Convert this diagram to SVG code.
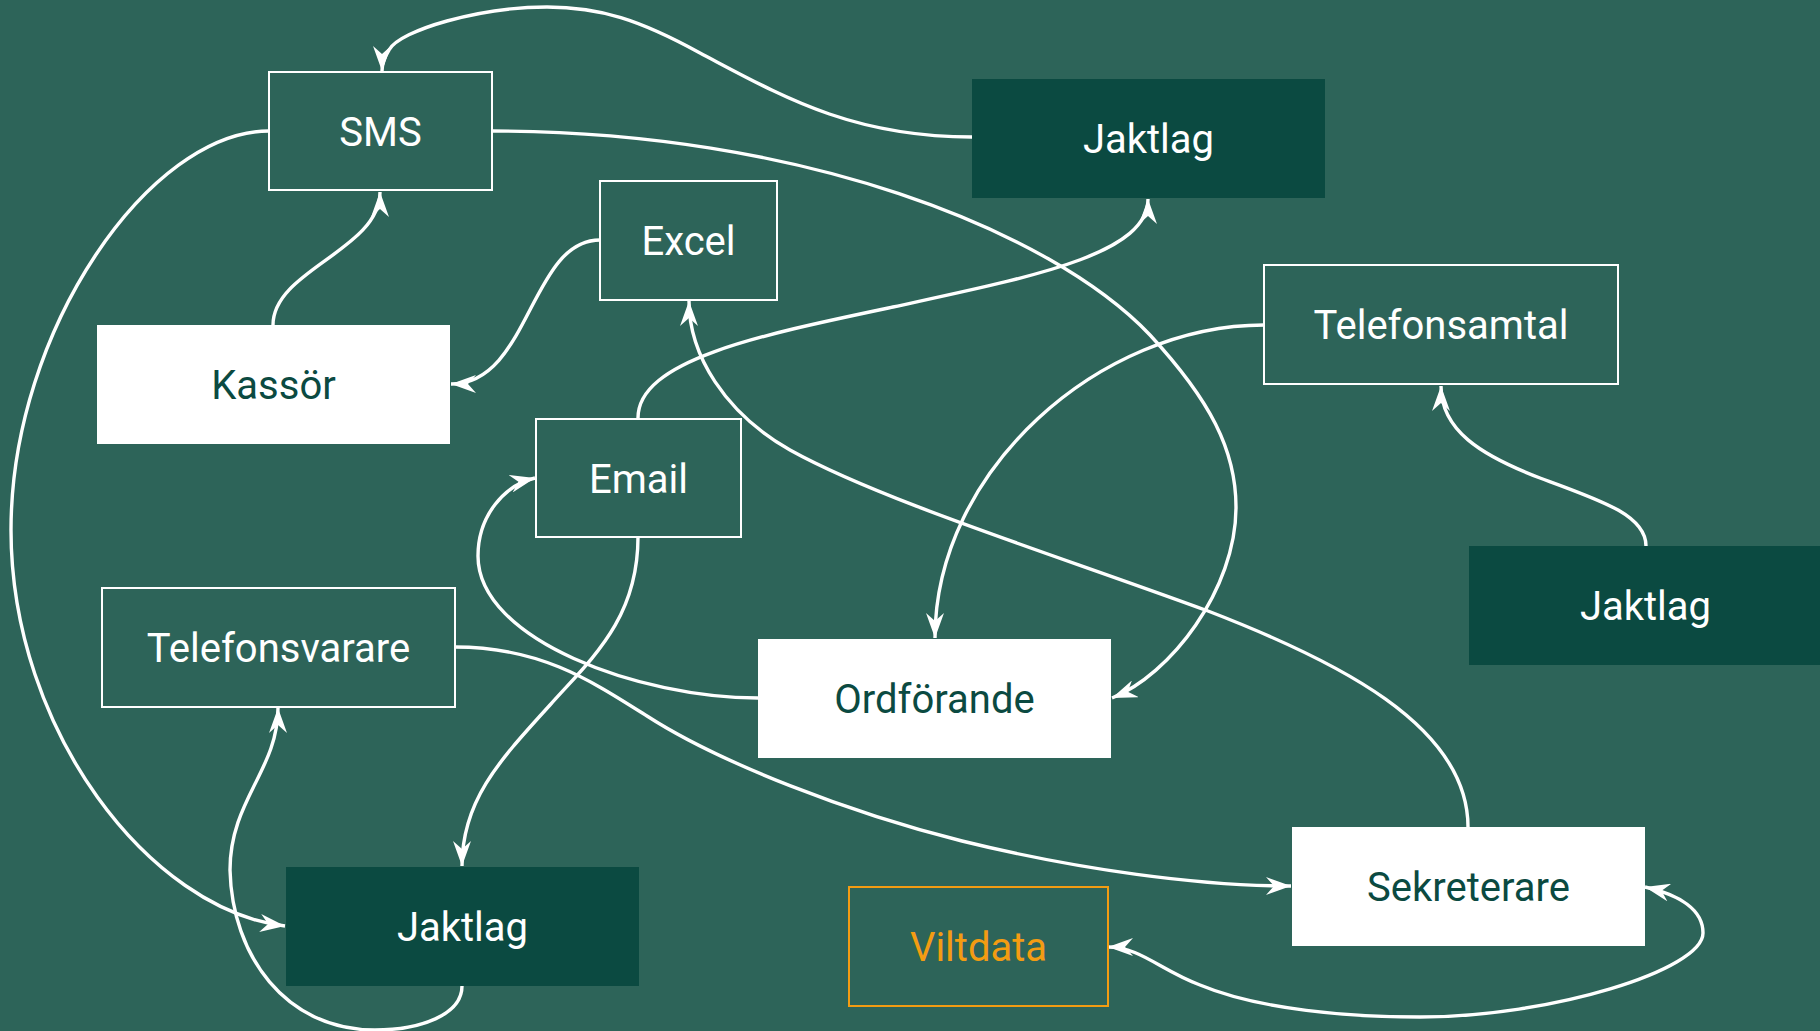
<svg xmlns="http://www.w3.org/2000/svg" width="1820" height="1031" viewBox="0 0 1820 1031">
<style>
.bg{fill:#2d6459}
.outline rect{fill:#2d6459;stroke:#ffffff;stroke-width:2}
.outline text{fill:#ffffff}
.dark rect{fill:#0b4a41}
.dark text{fill:#ffffff}
.light rect{fill:#ffffff}
.light text{fill:#0b4a41}
.orange rect{fill:#2d6459;stroke:#f39c12;stroke-width:2}
.orange text{fill:#f39c12}
text{font-family:Roboto,"Liberation Sans",sans-serif;font-size:40px;text-anchor:middle;dominant-baseline:central}
.edges path{fill:none;stroke:#ffffff;stroke-width:3.4}
</style>
<defs>
<marker id="arr" markerUnits="userSpaceOnUse" viewBox="0 0 25 18" refX="25" refY="9" markerWidth="25" markerHeight="18" orient="auto-start-reverse">
<path d="M0,0 L25,9 L0,18 L8,9 z" fill="#ffffff"/>
</marker>
</defs>
<rect class="bg" x="0" y="0" width="1820" height="1031"/>
<g class="edges">
<path d="M972,137 C850,137 780,95 700,53 C640,20 600,7 547,7 C480,7 400,30 389,50 C384,58 382,64 382,71" marker-end="url(#arr)"/>
<path d="M492,131 C800,131 1050,230 1150,335 C1210,400 1236,450 1236,507 C1236,590 1170,675 1112,698" marker-end="url(#arr)"/>
<path d="M273,325 C273,270 380,250 380,192" marker-end="url(#arr)"/>
<path d="M600,240 C530,240 530,384 451,384" marker-end="url(#arr)"/>
<path d="M638,418 C638,360 760,335 893,307 C1030,277 1148,255 1148,199" marker-end="url(#arr)"/>
<path d="M1468,827 C1468,725 1335,660 1208,611 C1050,553 880,500 790,450 C725,413 689,355 689,301" marker-end="url(#arr)"/>
<path d="M1264,325 C1100,325 935,470 935,638" marker-end="url(#arr)"/>
<path d="M1646,546 C1646,515 1600,500 1540,478 C1480,455 1441,430 1441,386" marker-end="url(#arr)"/>
<path d="M638,537 C638,620 590,660 550,705 C500,760 462,800 462,866" marker-end="url(#arr)"/>
<path d="M758,698 C640,698 478,640 478,556 C478,515 505,485 535,478" marker-end="url(#arr)"/>
<path d="M269,131 C150,131 11,330 11,530 C11,730 150,910 285,926" marker-end="url(#arr)"/>
<path d="M462,986 C462,1015 420,1030 375,1030 C285,1030 232,955 230,870 C230,800 278,770 278,708" marker-end="url(#arr)"/>
<path d="M455,647 C540,647 590,680 647,716 C720,763 850,813 962,841 C1080,870 1200,886 1291,886" marker-end="url(#arr)"/>
<path d="M1108,947 C1140,947 1160,970 1200,985 C1260,1010 1350,1017 1420,1017 C1550,1017 1703,970 1703,933 C1703,910 1680,895 1645,887" marker-start="url(#arr)" marker-end="url(#arr)"/>
</g>
<g id="sms" class="outline"><rect x="269" y="72" width="223" height="118"/><text x="380.5" y="132">SMS</text></g>
<g id="jaktlag1" class="dark"><rect x="972" y="79" width="353" height="119"/><text x="1148.5" y="139.5">Jaktlag</text></g>
<g id="excel" class="outline"><rect x="600" y="181" width="177" height="119"/><text x="688.5" y="241.5">Excel</text></g>
<g id="kassor" class="light"><rect x="97" y="325" width="353" height="119"/><text x="273.5" y="385.5">Kassör</text></g>
<g id="telefonsamtal" class="outline"><rect x="1264" y="265" width="354" height="119"/><text x="1441" y="325.5">Telefonsamtal</text></g>
<g id="email" class="outline"><rect x="536" y="419" width="205" height="118"/><text x="638.5" y="479">Email</text></g>
<g id="jaktlag2" class="dark"><rect x="1469" y="546" width="353" height="119"/><text x="1645.5" y="606.5">Jaktlag</text></g>
<g id="telefonsvarare" class="outline"><rect x="102" y="588" width="353" height="119"/><text x="278.5" y="648.5">Telefonsvarare</text></g>
<g id="ordforande" class="light"><rect x="758" y="639" width="353" height="119"/><text x="934.5" y="699.5">Ordförande</text></g>
<g id="jaktlag3" class="dark"><rect x="286" y="867" width="353" height="119"/><text x="462.5" y="927.5">Jaktlag</text></g>
<g id="sekreterare" class="light"><rect x="1292" y="827" width="353" height="119"/><text x="1468.5" y="887.5">Sekreterare</text></g>
<g id="viltdata" class="orange"><rect x="849" y="887" width="259" height="119"/><text x="978.5" y="947.5">Viltdata</text></g>
</svg>
